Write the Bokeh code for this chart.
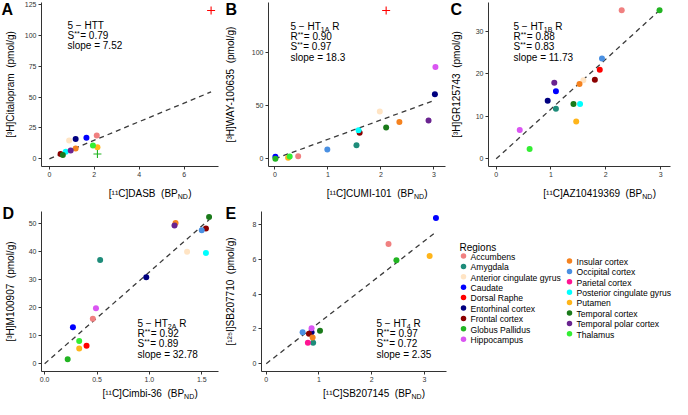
import math
from bokeh.plotting import figure
from bokeh.models import Label, FixedTicker, PrintfTickFormatter
from bokeh.layouts import row, column
from bokeh.embed import file_html
from bokeh.resources import INLINE

FONT = "Liberation Sans"
NB2 = " \u00a0"  # double space that survives SVG whitespace collapsing

# ---------------- data ----------------
regions = ["Accumbens", "Amygdala", "Anterior cingulate gyrus", "Caudate", "Dorsal Raphe",
           "Entorhinal cortex", "Frontal cortex", "Globus Pallidus", "Hippocampus",
           "Insular cortex", "Occipital cortex", "Parietal cortex", "Posterior cingulate gyrus",
           "Putamen", "Temporal cortex", "Temporal polar cortex", "Thalamus"]
region_colors = ["#F08080", "#1E8C7A", "#FFE4C4", "#0000FF", "#FF0000",
                 "#000080", "#8B0000", "#22B422", "#DA55F2",
                 "#F5821F", "#4A90E2", "#FF1493", "#00FFFF",
                 "#FFB51A", "#1A7A1A", "#6A2490", "#33EE33"]

# A: 5-HTT
regions_a = ["Accumbens", "Anterior cingulate gyrus", "Caudate", "Dorsal Raphe", "Entorhinal cortex",
             "Frontal cortex", "Globus Pallidus", "Insular cortex", "Posterior cingulate gyrus",
             "Putamen", "Temporal cortex", "Temporal polar cortex", "Thalamus"]
x_a = [2.11, 0.88, 1.65, 7.20, 1.17, 0.50, 2.14, 1.17, 0.73, 2.14, 0.60, 0.95, 1.94]
y_a = [18.8, 14.9, 17.0, 120.0, 16.0, 4.0, 3.9, 8.4, 5.8, 9.3, 3.2, 6.8, 10.7]
outliers_a = ["Dorsal Raphe", "Globus Pallidus"]

# B: 5-HT1A
regions_b = ["Accumbens", "Amygdala", "Anterior cingulate gyrus", "Caudate", "Dorsal Raphe",
             "Entorhinal cortex", "Frontal cortex", "Globus Pallidus", "Hippocampus", "Insular cortex",
             "Occipital cortex", "Posterior cingulate gyrus", "Putamen", "Temporal cortex",
             "Temporal polar cortex", "Thalamus"]
x_b = [0.44, 1.54, 1.98, 0.01, 2.10, 3.02, 1.60, 0.01, 3.03, 2.35, 0.99, 1.58, 0.25, 2.10, 2.90, 0.28]
y_b = [2.4, 12.8, 44.7, 1.8, 140.0, 60.8, 24.6, 0.0, 86.6, 34.6, 8.8, 26.8, 1.0, 29.5, 36.2, 2.1]
outliers_b = ["Dorsal Raphe"]

# C: 5-HT1B
regions_c = ["Accumbens", "Amygdala", "Anterior cingulate gyrus", "Caudate", "Dorsal Raphe",
             "Entorhinal cortex", "Frontal cortex", "Globus Pallidus", "Hippocampus", "Insular cortex",
             "Occipital cortex", "Posterior cingulate gyrus", "Putamen", "Temporal cortex",
             "Temporal polar cortex", "Thalamus"]
x_c = [2.29, 1.09, 1.59, 1.09, 1.89, 0.94, 1.80, 2.98, 0.43, 1.52, 1.93, 1.53, 1.46, 1.41, 1.06, 0.61]
y_c = [35.0, 11.8, 18.5, 15.9, 21.0, 13.7, 18.6, 35.0, 6.8, 17.6, 23.6, 12.9, 8.8, 12.9, 17.9, 2.3]
outliers_c = []

# D: 5-HT2A
regions_d = ["Accumbens", "Amygdala", "Anterior cingulate gyrus", "Caudate", "Dorsal Raphe",
             "Entorhinal cortex", "Frontal cortex", "Globus Pallidus", "Hippocampus", "Insular cortex",
             "Occipital cortex", "Posterior cingulate gyrus", "Putamen", "Temporal cortex",
             "Temporal polar cortex", "Thalamus"]
x_d = [0.46, 0.53, 1.36, 0.27, 0.40, 0.97, 1.54, 0.22, 0.49, 1.25, 1.50, 1.54, 0.33, 1.57, 1.24, 0.33]
y_d = [16.1, 37.1, 40.0, 13.0, 6.4, 30.9, 48.3, 1.6, 19.8, 50.3, 47.7, 39.6, 5.4, 52.4, 49.4, 8.1]
outliers_d = []

# E: 5-HT4
regions_e = ["Accumbens", "Amygdala", "Caudate", "Entorhinal cortex", "Frontal cortex",
             "Globus Pallidus", "Hippocampus", "Insular cortex", "Occipital cortex",
             "Parietal cortex", "Putamen", "Temporal cortex"]
x_e = [2.32, 0.89, 3.22, 0.86, 0.81, 2.47, 0.86, 0.88, 0.69, 0.79, 3.10, 1.02]
y_e = [6.88, 1.21, 8.38, 1.80, 1.72, 5.94, 2.03, 1.50, 1.81, 1.21, 6.19, 1.90]
outliers_e = []

panel_letters = ["A", "B", "C", "D", "E"]
target_sub = ["", "1A", "1B", "2A", "4"]
target_name = ["5 \u2212 HTT", "5 \u2212 HT", "5 \u2212 HT", "5 \u2212 HT", "5 \u2212 HT"]
r_values = [None, "0.90", "0.88", "0.92", "0.97"]
s_values = ["0.79", "0.97", "0.83", "0.89", "0.72"]
slopes = [7.52, 18.3, 11.73, 32.78, 2.35]
x_titles = ["[\u00b9\u00b9C]DASB", "[\u00b9\u00b9C]CUMI-101", "[\u00b9\u00b9C]AZ10419369",
            "[\u00b9\u00b9C]Cimbi-36", "[\u00b9\u00b9C]SB207145"]
y_titles = ["[\u00b3H]Citalopram", "[\u00b3H]WAY-100635", "[\u00b3H]GR125743",
            "[\u00b3H]M100907", "[\u00b9\u00b2\u2075I]SB207710"]
y_unit = "(pmol/g)"
x_unit = "BP"
x_unit_sub = "ND"
x_ticks = [[0, 2, 4, 6], [0, 1, 2, 3], [0, 1, 2, 3], [0.0, 0.5, 1.0, 1.5], [0, 1, 2, 3]]
y_ticks = [[0, 25, 50, 75, 100, 125], [0, 50, 100], [0, 10, 20, 30],
           [0, 10, 20, 30, 40, 50], [0, 2, 4, 6, 8]]
legend_title = "Regions"

# ---------------- text metrics (Arial/Liberation Sans, per 1000 em) ----------------
CW = {' ': 278, '\u00a0': 278, '\u2212': 584, '-': 333, '=': 584, '.': 278, '*': 389, '[': 278,
      ']': 278, '(': 333, ')': 333, '/': 278, '\u00b9': 333, '\u00b3': 333, '\u00b2': 333,
      'A': 667, 'B': 667, 'C': 722, 'D': 722, 'E': 667, 'H': 722, 'I': 278, 'M': 833,
      'N': 722, 'P': 667, 'R': 722, 'S': 667, 'T': 611, 'U': 722, 'W': 944, 'Y': 667, 'Z': 611,
      'G': 778, 'a': 556, 'b': 556, 'c': 500, 'd': 556, 'e': 556, 'g': 556, 'h': 556, 'i': 222,
      'l': 222, 'm': 833, 'n': 556, 'o': 556, 'p': 556, 'r': 333, 's': 500, 't': 278, 'u': 556,
      'y': 500}


def text_w(s, size):
    return sum(CW.get(c, 556) for c in s) / 1000.0 * size


# ---------------- helpers ----------------
def make_conv(L, T, fw, fh, xr, yr):
    def conv(fx, fy):
        x = xr[0] + (fx - L) / fw * (xr[1] - xr[0])
        y = yr[1] - (fy - T) / fh * (yr[1] - yr[0])
        return x, y
    return conv


def ident(fx, fy):
    return fx, fy


def add_label(p, conv, fx, fy, text, size, **kw):
    x, y = conv(fx, fy)
    opts = dict(text_font=FONT, text_font_size=f"{size}px", text_color="black",
                text_align="left", text_baseline="alphabetic")
    opts.update(kw)
    p.add_layout(Label(x=x, y=y, text=text, **opts))


def rich(p, conv, fx, fy, pieces, size):
    x = fx
    for txt, kind in pieces:
        s = size if kind == "n" else round(size * 0.7, 2)
        dy = 0 if kind == "n" else (-size * 0.22 if kind == "sup" else size * 0.25)
        stripped = txt.lstrip(" ")
        x += text_w(txt[:len(txt) - len(stripped)], s)
        add_label(p, conv, x, fy + dy, stripped, s)
        x += text_w(stripped, s) + (0.6 if kind == "sup" else 0)


def strip(w, h):
    s = figure(width=w, height=h, frame_width=w, frame_height=h, title=None,
               x_range=(0, w), y_range=(h, 0),
               toolbar_location=None, tools="", output_backend="svg",
               x_axis_location=None, y_axis_location=None,
               min_border_left=0, min_border_right=0, min_border_top=0, min_border_bottom=0)
    s.outline_line_color = None
    s.grid.visible = False
    s.xgrid.grid_line_color = None
    s.ygrid.grid_line_color = None
    s.background_fill_color = "white"
    s.border_fill_color = "white"
    return s


# panel geometry (whole panel: width W, height H; frame at L/R/T/B borders)
geoms = [dict(W=224, H=200, L=41, R=6, T=2, B=34, Ls=21, Bp=15),
         dict(W=224, H=200, L=44, R=3, T=2, B=34, Ls=24, Bp=15),
         dict(W=224, H=200, L=40, R=2, T=2, B=34, Ls=20, Bp=15),
         dict(W=224, H=199, L=41, R=6, T=11, B=28, Ls=21, Bp=14),
         dict(W=224, H=199, L=37, R=2, T=11, B=28, Ls=17, Bp=14)]
x_ranges = [(-0.35, 7.53), (-0.12, 3.22), (-0.14, 3.18), (-0.03, 1.66), (-0.09, 3.42)]
y_ranges = [(-6.2, 126.5), (-7.3, 147.5), (-1.8, 36.8), (-2.8, 54.4), (-0.45, 8.75)]
xtitle_base = [193, 193, 193, 193, 193]
ytitle_x = [10, 6, 8, 10, 6]
annot_pos = [(67, 25), (66, 26), (65, 26), (137, 123), (152, 123)]
letter_pos = [(1, 0), (1, 0), (2, 0), (2, 4), (1, 4)]

all_regions = [regions_a, regions_b, regions_c, regions_d, regions_e]
all_x = [x_a, x_b, x_c, x_d, x_e]
all_y = [y_a, y_b, y_c, y_d, y_e]
all_out = [outliers_a, outliers_b, outliers_c, outliers_d, outliers_e]
color_of = dict(zip(regions, region_colors))


def build_panel(i):
    g = geoms[i]
    xr, yr = x_ranges[i], y_ranges[i]
    fw = g["W"] - g["L"] - g["R"]
    fh = g["H"] - g["T"] - g["B"]
    conv = make_conv(g["L"], g["T"], fw, fh, xr, yr)
    pw = g["W"] - g["Ls"]
    ph = g["H"] - (g["B"] - g["Bp"])
    p = figure(width=pw, height=ph, x_range=xr, y_range=yr, title=None,
               toolbar_location=None, tools="", output_backend="svg",
               min_border_left=g["L"] - g["Ls"], min_border_right=g["R"],
               min_border_top=g["T"], min_border_bottom=g["Bp"])
    p.outline_line_color = None
    p.grid.visible = False
    p.background_fill_color = "white"
    p.border_fill_color = "white"
    for ax in (p.xaxis[0], p.yaxis[0]):
        ax.axis_line_color = "#333333"
        ax.axis_line_width = 1
        ax.major_tick_line_color = "#333333"
        ax.major_tick_out = 3
        ax.major_tick_in = 0
        ax.minor_tick_out = 0
        ax.minor_tick_in = 0
        ax.major_label_text_font = FONT
        ax.major_label_text_font_size = "7px"
        ax.major_label_text_color = "#333333"
        ax.major_label_standoff = 2
    p.xaxis.ticker = FixedTicker(ticks=x_ticks[i])
    p.yaxis.ticker = FixedTicker(ticks=y_ticks[i])
    if i == 3:
        p.xaxis.formatter = PrintfTickFormatter(format="%.1f")

    xs, ys, regs = all_x[i], all_y[i], all_regions[i]
    xmax = max(xs)
    p.line([0, xmax], [0, slopes[i] * xmax], line_dash="5 4", line_color="#3a3a3a", line_width=1.3)

    outs = all_out[i]
    cx = [x for x, r in zip(xs, regs) if r not in outs]
    cy = [y for y, r in zip(ys, regs) if r not in outs]
    cc = [color_of[r] for r in regs if r not in outs]
    p.scatter(cx, cy, marker="circle", size=6, fill_color=cc, line_color=None)
    if outs:
        ox = [x for x, r in zip(xs, regs) if r in outs]
        oy = [y for y, r in zip(ys, regs) if r in outs]
        oc = [color_of[r] for r in regs if r in outs]
        p.scatter(ox, oy, marker="cross", size=8, line_color=oc, line_width=1.1)

    # annotation block (inside frame)
    ax0, ay0 = annot_pos[i]
    lines = []
    if target_sub[i]:
        lines.append([(target_name[i], "n"), (target_sub[i], "sub"), (" R", "n")])
    else:
        lines.append([(target_name[i], "n")])
    if r_values[i] is not None:
        lines.append([("R", "n"), ("**", "sup"), ("= " + r_values[i], "n")])
    lines.append([("S", "n"), ("**", "sup"), ("= " + s_values[i], "n")])
    lines.append([("slope = " + f"{slopes[i]:g}", "n")])
    for k, ln in enumerate(lines):
        rich(p, conv, ax0, ay0 + k * 10.2, ln, 10)

    # left strip: panel letter + y title
    ls = strip(g["Ls"], g["H"])
    lx, ly = letter_pos[i]
    ls.add_layout(Label(x=lx, y=ly, text=panel_letters[i], text_font=FONT,
                        text_font_size="16px", text_font_style="bold", text_color="black",
                        text_align="left", text_baseline="top"))
    ls.add_layout(Label(x=ytitle_x[i], y=g["T"] + fh / 2, text=y_titles[i] + NB2 + y_unit,
                        angle=math.pi / 2, text_font=FONT, text_font_size="10px",
                        text_color="black", text_align="center", text_baseline="middle"))

    # bottom strip: x title with subscript; main part right-aligned at the subscript start
    bh = g["B"] - g["Bp"]
    bs = strip(pw, bh)
    main = x_titles[i] + NB2 + "(" + x_unit
    w_main = text_w(main, 10)
    w_sub = text_w(x_unit_sub, 7)
    w_close = text_w(")", 10)
    cxp = (g["L"] - g["Ls"]) + fw / 2
    x0 = cxp - (w_main + w_sub + w_close) / 2 + w_main
    yb = xtitle_base[i] - ph
    add_label(bs, ident, x0, yb, main, 10, text_align="right")
    add_label(bs, ident, x0, yb + 2.5, x_unit_sub, 7)
    add_label(bs, ident, x0 + w_sub + 0.3, yb, ")", 10)

    return row(ls, column(p, bs))


panels = [build_panel(i) for i in range(5)]

# ---------------- legend ----------------
pl = strip(224, 199)
pl.add_layout(Label(x=11, y=47, text=legend_title, text_font=FONT, text_font_size="10px",
                    text_color="black", text_align="left", text_baseline="alphabetic"))
n1 = 9
col_marker_x = [15, 121]
col_text_x = [22, 128]
col_y0 = [55.5, 60.5]
spacing = 10.4
lx, ly, lc = [], [], []
for j, (name, col) in enumerate(zip(regions, region_colors)):
    c = 0 if j < n1 else 1
    k = j if j < n1 else j - n1
    yy = col_y0[c] + k * spacing
    lx.append(col_marker_x[c])
    ly.append(yy)
    lc.append(col)
    pl.add_layout(Label(x=col_text_x[c], y=yy + 0.8, text=name, text_font=FONT, text_font_size="8.6px",
                        text_color="black", text_align="left", text_baseline="middle"))
pl.scatter(lx, ly, marker="circle", size=5.5, fill_color=lc, line_color=None)

layout = column(row(panels[0], panels[1], panels[2]), row(panels[3], panels[4], pl))

with open("out.html", "w") as f:
    f.write(file_html(layout, INLINE))
